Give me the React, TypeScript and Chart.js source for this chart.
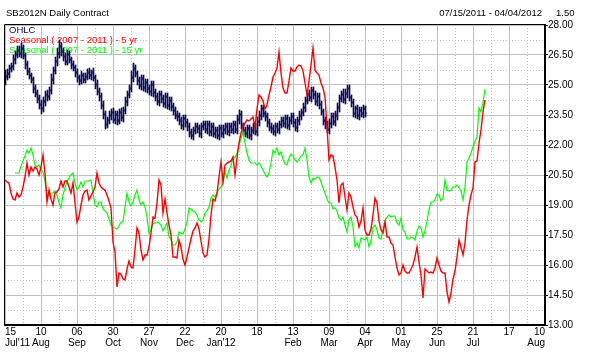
import { useEffect, useRef } from "react";
import { Chart, registerables } from "chart.js";

Chart.register(...registerables);

// ---------------- data ----------------
const TITLE = "SB2012N Daily Contract";
const DATE_RANGE = "07/15/2011 - 04/04/2012";
const STEP_TEXT = "1.50";
const LEGEND_LABELS = ["OHLC", "Seasonal ( 2007 - 2011 ) - 5 yr", "Seasonal ( 1997 - 2011 ) - 15 yr"];

// x axis: trading-day index, one labelled gridline every 18 sessions
const BARS_PER_TICK = 18;
const xTickDays = ["15", "10", "06", "30", "27", "22", "20", "18", "13", "09", "04", "01", "25", "21", "17", "10"];
const xTickMonths = ["Jul'11", "Aug", "Sep", "Oct", "Nov", "Dec", "Jan'12", "", "Feb", "Mar", "Apr", "May", "Jun", "Jul", "", "Aug"];

const yTicks = [13.0, 14.5, 16.0, 17.5, 19.0, 20.5, 22.0, 23.5, 25.0, 26.5, 28.0];

const ohlcOpen = [
  25.20, 25.45, 25.55, 25.85, 25.95, 26.25, 26.55, 26.75, 26.55, 26.85,
  26.45, 26.05, 25.65, 25.45, 25.25, 24.85, 24.55, 24.35, 24.05, 23.85,
  24.15, 24.55, 24.45, 24.75, 25.25, 25.75, 26.15, 26.55, 26.95, 26.65,
  26.45, 26.15, 26.55, 26.25, 26.05, 25.85, 25.65, 25.35, 25.25, 25.45,
  25.25, 25.45, 25.65, 25.45, 25.65, 25.35, 25.05, 24.65, 24.45, 23.95,
  23.55, 23.05, 23.25, 23.45, 23.65, 23.25, 23.55, 23.25, 23.65, 23.35,
  23.75, 24.15, 24.55, 24.85, 25.35, 25.85, 25.55, 25.25, 24.95, 25.35,
  24.85, 25.15, 24.85, 24.65, 25.05, 24.65, 24.45, 24.15, 24.55, 24.35,
  24.05, 24.45, 23.95, 24.25, 23.95, 23.75, 23.45, 23.45, 23.25, 22.95,
  23.35, 23.15, 22.95, 22.65, 22.45, 22.75, 22.95, 22.85, 22.55, 22.95,
  23.05, 22.75, 23.05, 22.65, 22.95, 22.55, 22.75, 22.45, 22.85, 22.55,
  22.75, 22.95, 22.65, 22.95, 22.75, 23.05, 22.75, 23.25, 23.55, 22.95,
  22.75, 22.55, 22.85, 22.45, 22.75, 22.95, 22.65, 23.15, 23.45, 23.85,
  23.55, 23.45, 23.15, 22.85, 22.85, 22.65, 22.95, 22.75, 23.05, 23.25,
  23.05, 23.35, 22.95, 23.25, 23.45, 23.15, 22.85, 23.25, 23.45, 23.65,
  23.85, 24.25, 24.55, 24.35, 24.75, 24.55, 24.15, 24.45, 24.05, 23.65,
  23.25, 23.05, 22.75, 23.05, 23.45, 23.15, 23.45, 23.85, 24.35, 24.55,
  24.25, 24.55, 24.85, 24.35, 24.15, 23.55, 23.85, 23.45, 23.75, 23.55,
  23.85,
];
const ohlcHigh = [
  25.75, 25.80, 26.00, 26.10, 26.50, 26.70, 26.95, 26.95, 27.10, 27.00,
  26.60, 26.20, 25.85, 25.60, 25.40, 25.00, 24.75, 24.50, 24.25, 24.40,
  24.70, 24.75, 24.90, 25.55, 25.90, 26.40, 26.85, 27.25, 27.10, 26.85,
  26.60, 26.75, 26.70, 26.40, 26.20, 26.00, 25.80, 25.50, 25.70, 25.60,
  25.60, 25.80, 25.85, 25.75, 25.85, 25.50, 25.25, 24.85, 24.60, 24.20,
  23.70, 23.40, 23.70, 23.80, 23.85, 23.70, 23.70, 23.80, 23.85, 23.90,
  24.40, 24.70, 25.00, 25.70, 26.10, 26.00, 25.70, 25.40, 25.50, 25.50,
  25.30, 25.30, 25.00, 25.20, 25.20, 24.80, 24.60, 24.70, 24.70, 24.50,
  24.60, 24.60, 24.40, 24.40, 24.10, 23.90, 23.70, 23.60, 23.40, 23.50,
  23.50, 23.30, 23.10, 22.80, 22.90, 23.10, 23.10, 23.00, 23.10, 23.20,
  23.20, 23.20, 23.20, 23.10, 23.10, 22.90, 22.90, 23.00, 23.00, 23.00,
  23.10, 23.10, 23.10, 23.10, 23.20, 23.20, 23.50, 23.75, 23.70, 23.10,
  22.90, 23.00, 23.00, 22.90, 23.10, 23.10, 23.40, 23.70, 24.00, 24.00,
  23.70, 23.60, 23.30, 23.10, 23.00, 23.10, 23.10, 23.20, 23.40, 23.40,
  23.50, 23.50, 23.40, 23.60, 23.60, 23.30, 23.40, 23.70, 23.80, 24.10,
  24.40, 24.70, 24.75, 24.90, 24.90, 24.70, 24.60, 24.60, 24.20, 23.80,
  23.40, 23.20, 23.30, 23.60, 23.60, 23.70, 24.10, 24.50, 24.70, 24.80,
  24.80, 25.00, 25.00, 24.50, 24.30, 23.95, 24.00, 23.90, 23.90, 24.00,
  23.95,
];
const ohlcLow = [
  25.00, 25.25, 25.35, 25.65, 25.75, 26.05, 26.35, 26.40, 26.35, 26.30,
  25.80, 25.50, 25.30, 25.10, 24.60, 24.40, 24.10, 23.80, 23.55, 23.65,
  23.95, 24.20, 24.25, 24.55, 25.05, 25.55, 25.95, 26.35, 26.45, 26.20,
  26.00, 26.00, 26.10, 25.80, 25.70, 25.40, 25.15, 25.00, 25.05, 25.10,
  25.10, 25.25, 25.30, 25.25, 25.20, 24.80, 24.50, 24.20, 23.80, 23.30,
  22.80, 22.85, 23.05, 23.25, 23.10, 23.05, 23.00, 23.05, 23.20, 23.15,
  23.55, 23.95, 24.35, 24.65, 25.15, 25.40, 25.00, 24.80, 24.75, 24.70,
  24.65, 24.60, 24.50, 24.45, 24.40, 24.20, 24.00, 23.95, 24.10, 23.90,
  23.85, 23.80, 23.75, 23.70, 23.50, 23.30, 23.20, 23.00, 22.80, 22.75,
  22.90, 22.70, 22.40, 22.30, 22.25, 22.55, 22.60, 22.40, 22.35, 22.75,
  22.60, 22.55, 22.45, 22.45, 22.40, 22.35, 22.30, 22.25, 22.40, 22.35,
  22.55, 22.50, 22.45, 22.60, 22.55, 22.60, 22.55, 23.05, 22.80, 22.50,
  22.40, 22.35, 22.30, 22.25, 22.55, 22.50, 22.45, 22.95, 23.25, 23.40,
  23.20, 22.90, 22.70, 22.60, 22.50, 22.45, 22.60, 22.55, 22.85, 22.90,
  22.85, 22.80, 22.75, 23.05, 22.90, 22.70, 22.65, 23.00, 23.25, 23.45,
  23.65, 24.05, 24.20, 24.15, 24.30, 24.00, 23.95, 23.80, 23.50, 23.00,
  22.80, 22.60, 22.55, 22.85, 23.00, 22.95, 23.25, 23.65, 24.15, 24.10,
  24.05, 24.35, 24.20, 23.90, 23.40, 23.35, 23.30, 23.25, 23.40, 23.35,
  23.40,
];
const ohlcClose = [
  25.40, 25.60, 25.80, 25.90, 26.30, 26.50, 26.70, 26.60, 26.80, 26.50,
  26.00, 25.70, 25.50, 25.30, 24.80, 24.60, 24.30, 24.00, 23.80, 24.20,
  24.50, 24.40, 24.70, 25.30, 25.70, 26.20, 26.60, 26.90, 26.70, 26.40,
  26.20, 26.50, 26.30, 26.00, 25.90, 25.60, 25.40, 25.20, 25.50, 25.30,
  25.40, 25.60, 25.50, 25.60, 25.40, 25.00, 24.70, 24.40, 24.00, 23.50,
  23.00, 23.20, 23.50, 23.60, 23.30, 23.50, 23.20, 23.60, 23.40, 23.70,
  24.20, 24.50, 24.80, 25.40, 25.80, 25.60, 25.20, 25.00, 25.30, 24.90,
  25.10, 24.80, 24.70, 25.00, 24.60, 24.40, 24.20, 24.50, 24.30, 24.10,
  24.40, 24.00, 24.20, 23.90, 23.70, 23.50, 23.40, 23.20, 23.00, 23.30,
  23.10, 22.90, 22.60, 22.50, 22.70, 22.90, 22.80, 22.60, 22.90, 23.00,
  22.80, 23.00, 22.70, 22.90, 22.60, 22.70, 22.50, 22.80, 22.60, 22.80,
  22.90, 22.70, 22.90, 22.80, 23.00, 22.80, 23.30, 23.50, 23.00, 22.70,
  22.60, 22.80, 22.50, 22.70, 22.90, 22.70, 23.20, 23.50, 23.80, 23.60,
  23.40, 23.10, 22.90, 22.80, 22.70, 22.90, 22.80, 23.00, 23.20, 23.10,
  23.30, 23.00, 23.20, 23.40, 23.10, 22.90, 23.20, 23.50, 23.60, 23.90,
  24.20, 24.50, 24.40, 24.70, 24.50, 24.20, 24.40, 24.00, 23.70, 23.20,
  23.00, 22.80, 23.10, 23.40, 23.20, 23.50, 23.90, 24.30, 24.50, 24.30,
  24.60, 24.80, 24.40, 24.10, 23.60, 23.80, 23.50, 23.70, 23.60, 23.80,
  23.60,
];

const seasonal5yr = [
  20.25, 20.15, 20.1, 19.6, 19.3, 19.25, 19.6, 19.4, 19.5, 19.9,
  20.4, 21.1, 20.5, 20.9, 20.7, 20.9, 20.8, 20.5, 20.9, 21.5,
  20.6, 19.15, 19.75, 19.3, 19.0, 19.6, 19.65, 19.8, 20.2, 19.9,
  20.2, 20.2, 19.9, 19.6, 20.1, 19.1, 18.15, 18.4, 19.0, 19.5,
  19.7, 19.75, 19.25, 19.45, 19.65, 19.9, 20.6, 20.1, 19.9, 19.8,
  19.75, 19.5, 19.2, 18.85, 17.15, 16.65, 14.9, 15.6, 15.55, 15.3,
  15.25, 15.8, 16.2, 15.9, 15.85, 16.75, 17.85, 17.6, 16.75, 16.25,
  16.5, 16.5, 16.9, 17.6, 18.4, 18.35, 19.1, 20.25, 20.0, 18.6,
  19.3, 18.6, 18.0, 17.5, 16.4, 16.4, 16.35, 17.25, 16.9, 16.3,
  16.0, 16.4, 16.85, 17.3, 17.7, 17.85, 18.1, 17.8, 17.2, 16.6,
  16.4, 16.5, 17.3, 18.5, 19.3, 19.2, 19.6, 20.4, 21.15, 20.15,
  21.0, 21.1, 21.15, 21.2, 21.4, 20.5, 21.35, 22.1, 22.6, 22.9,
  23.1, 23.25, 23.2, 23.3, 23.4, 22.9, 23.8, 24.5, 24.4, 24.2,
  23.8, 24.0, 24.5, 24.9, 25.4, 25.6, 25.85, 26.65, 25.6, 24.85,
  24.6, 24.6, 25.2, 25.85, 25.7, 25.7, 25.9, 26.0, 25.95, 25.7,
  25.1, 24.5, 25.2, 26.0, 26.85, 25.75, 25.6, 25.5, 25.1, 24.85,
  24.4, 22.9, 21.25, 21.5, 21.45, 20.9, 20.25, 19.1, 20.0, 20.1,
  19.4, 18.75, 19.6, 19.4, 18.9, 18.5, 18.4, 17.9, 18.2, 18.85,
  17.75, 17.5, 17.5, 17.8, 18.5, 19.35, 19.1, 18.2, 17.75, 17.6,
  18.15, 17.4, 17.4, 17.1, 17.0, 16.4, 15.85, 15.5, 15.6, 16.0,
  15.7, 15.6, 15.6, 15.8, 16.0, 16.4, 16.9, 16.15, 15.5, 14.35,
  15.8, 15.7, 15.6, 15.65, 15.6, 15.85, 16.35, 16.0, 15.7, 15.6,
  15.6, 14.65, 14.15, 14.6, 15.3, 15.7, 16.4, 17.25, 16.9, 16.5,
  17.1, 18.25, 19.0, 19.5, 19.85, 21.15, 21.2, 22.1, 22.75, 23.65,
  24.25,
];

const seasonal15yr = [
  null, null, null, null, null, 20.6, 20.6, 20.6, 20.95, 21.2,
  21.45, 21.75, 21.6, 21.85, 21.5, 21.0, 20.9, 21.0, 20.75, 20.65,
  20.2, 19.5, 19.45, 19.6, 19.6, 19.7, 19.5, 19.1, 18.85, 19.5,
  19.85, 20.15, 20.35, 20.5, 20.6, 20.1, 19.75, 19.9, 20.15, 19.9,
  20.2, 20.2, 20.2, 20.25, 19.6, 19.0, 18.9, 19.15, 19.15, 18.8,
  18.7, 18.6, 18.3, 18.0, 17.9, 17.85, 17.8, 17.95, 18.15, 18.15,
  18.9, 19.6, 19.15, 18.95, 19.15, 19.5, 19.75, 19.25, 19.0, 19.15,
  18.9, 18.4, 17.6, 17.75, 18.05, 18.1, 18.15, 18.1, 18.0, 17.7,
  17.9, 18.1, 17.4, 17.3, 17.0, 17.0, 17.15, 17.65, 17.6, 17.55,
  17.8, 18.15, 18.85, 18.8, 18.7, 18.65, 18.5, 18.25, 18.15, 18.25,
  18.6, 18.7, 18.9, 19.35, 19.5, 19.4, 19.6, 19.8, 19.9, 20.1,
  20.65, 20.35, 20.75, 20.95, 21.4, 21.35, 21.6, 22.0, 22.3, 22.65,
  22.1, 21.6, 21.25, 21.1, 21.1, 21.1, 21.0, 21.1, 20.95, 20.75,
  20.55, 20.4, 20.6, 21.1, 21.75, 21.6, 21.85, 21.5, 21.65, 21.3,
  21.05, 21.0, 21.35, 21.55, 21.45, 21.25, 21.15, 21.3, 21.45, 21.5,
  21.85, 21.25, 20.4, 20.1, 20.35, 20.3, 20.4, 20.4, 20.15, 19.85,
  19.6, 19.3, 19.1, 19.1, 18.8, 18.85, 18.7, 18.35, 18.25, 18.4,
  18.0, 17.65, 18.25, 18.4, 17.9, 16.9, 17.1, 16.85, 17.35, 17.3,
  17.25, 17.4, 16.9, 17.2, 17.9, 18.0, 17.75, 17.35, 17.3, 17.75,
  18.2, 18.4, 18.5, 18.4, 18.45, 18.45, 18.1, 18.0, 18.35, 17.75,
  17.65, 17.3, 17.3, 17.4, 17.35, 17.25, 17.7, 17.95, 17.85, 17.4,
  17.7, 18.2, 18.75, 19.15, 19.15, 19.25, 19.55, 19.5, 19.2, 19.35,
  20.25, 19.75, 19.7, 19.75, 19.9, 19.9, 20.0, 19.85, 19.7, 19.25,
  19.9, 21.15, 21.35, 21.6, 21.9, 22.2, 22.4, 23.85, 23.65, 24.1,
  24.8,
];

// ---------------- styles ----------------
const NAVY = "#0a0a5a";
const RED = "#ff0000";
const GREEN = "#00ff00";
const GRID = "#c0c0c0";
const FONT = "'Liberation Sans', Arial, sans-serif";
// sub-session shift that lands 1px OHLC strokes on whole device pixels
const BAR_SHIFT = 0.25;

const decorPlugin = {
  id: "decor",
  beforeDatasetsDraw(chart: any) {
    const { ctx, chartArea, scales } = chart;
    const xs = scales.x;
    const ys = scales.y;
    ctx.save();
    ctx.strokeStyle = GRID;
    ctx.lineWidth = 1;
    ctx.setLineDash([1, 2]);
    for (let k = 0; k < xTickDays.length - 1; k++) {
      const px = Math.round(xs.getPixelForValue((k + 0.5) * BARS_PER_TICK)) + 0.5;
      ctx.beginPath();
      ctx.moveTo(px, chartArea.top);
      ctx.lineTo(px, chartArea.bottom);
      ctx.stroke();
    }
    for (let k = 0; k < yTicks.length - 1; k++) {
      const py = Math.round(ys.getPixelForValue((yTicks[k] + yTicks[k + 1]) / 2)) + 0.5;
      ctx.beginPath();
      ctx.moveTo(chartArea.left, py);
      ctx.lineTo(chartArea.right, py);
      ctx.stroke();
    }
    ctx.setLineDash([]);
    ctx.font = `9.5px ${FONT}`;
    ctx.textBaseline = "alphabetic";
    ctx.textAlign = "left";
    const colors = [NAVY, RED, GREEN];
    LEGEND_LABELS.forEach((t, k) => {
      ctx.fillStyle = colors[k];
      ctx.fillText(t, chartArea.left + 4, chartArea.top + 8 + k * 10);
    });
    ctx.restore();
  },
  afterDraw(chart: any) {
    const { ctx, chartArea } = chart;
    ctx.save();
    ctx.strokeStyle = "#000";
    ctx.lineWidth = 1;
    ctx.beginPath();
    ctx.moveTo(chartArea.left - 0.5, chartArea.bottom);
    ctx.lineTo(chartArea.left - 0.5, chartArea.top - 0.5);
    ctx.lineTo(chartArea.right, chartArea.top - 0.5);
    ctx.stroke();
    ctx.fillStyle = "#000";
    ctx.font = `9.5px ${FONT}`;
    ctx.textBaseline = "alphabetic";
    ctx.textAlign = "left";
    ctx.fillText(TITLE, 6, 16);
    ctx.textAlign = "right";
    ctx.fillText(DATE_RANGE, 542, 16);
    ctx.textAlign = "left";
    ctx.fillText(STEP_TEXT, 556, 16);
    ctx.restore();
  },
};

export default function App() {
  const canvasRef = useRef<HTMLCanvasElement | null>(null);

  useEffect(() => {
    if (!canvasRef.current) return;
    const bars = ohlcHigh.map((h, i) => ({ x: i + BAR_SHIFT, y: [ohlcLow[i], h] }));
    const opens = ohlcOpen.map((v, i) => ({ x: i - BAR_SHIFT, y: v }));
    const closes = ohlcClose.map((v, i) => ({ x: i + 3 * BAR_SHIFT, y: v }));
    const red = seasonal5yr.map((v, i) => ({ x: i, y: v }));
    const green = seasonal15yr.map((v, i) => ({ x: i, y: v }));

    const chart = new Chart(canvasRef.current, {
      type: "bar",
      data: {
        datasets: [
          {
            type: "line",
            label: LEGEND_LABELS[1],
            data: red as any,
            borderColor: RED,
            borderWidth: 1.4,
            pointRadius: 0,
            tension: 0,
            order: 0,
          },
          {
            type: "line",
            label: LEGEND_LABELS[2],
            data: green as any,
            borderColor: GREEN,
            borderWidth: 1.2,
            pointRadius: 0,
            tension: 0,
            spanGaps: false,
            order: 1,
          },
          {
            type: "scatter",
            label: "open",
            data: opens as any,
            pointStyle: "line",
            radius: 0.5,
            borderColor: NAVY,
            borderWidth: 1,
            order: 2,
          },
          {
            type: "scatter",
            label: "close",
            data: closes as any,
            pointStyle: "line",
            radius: 0.5,
            borderColor: NAVY,
            borderWidth: 1,
            order: 2,
          },
          {
            type: "bar",
            label: LEGEND_LABELS[0],
            data: bars as any,
            backgroundColor: NAVY,
            barThickness: 1,
            order: 3,
          },
        ],
      },
      options: {
        animation: false,
        responsive: false,
        maintainAspectRatio: false,
        events: [],
        layout: { padding: { left: 5, top: 25, right: 0, bottom: 0 } },
        plugins: {
          legend: { display: false },
          tooltip: { enabled: false },
          title: { display: false },
        },
        scales: {
          x: {
            type: "linear",
            offset: false,
            min: 0,
            max: (xTickDays.length - 1) * BARS_PER_TICK,
            afterBuildTicks: (scale: any) => {
              scale.ticks = xTickDays.map((_, k) => ({ value: k * BARS_PER_TICK }));
            },
            afterFit: (scale: any) => {
              scale.height = 30;
            },
            grid: { color: GRID, lineWidth: 1, drawTicks: false, offset: false },
            border: { color: "#000", width: 2 },
            ticks: {
              autoSkip: false,
              maxRotation: 0,
              minRotation: 0,
              align: "inner",
              padding: 2,
              color: "#000",
              font: { family: FONT, size: 10, lineHeight: 1.1 },
              callback: (_v: any, index: number) => [xTickDays[index], xTickMonths[index]],
            },
          },
          y: {
            type: "linear",
            position: "right",
            min: yTicks[0],
            max: yTicks[yTicks.length - 1],
            afterBuildTicks: (scale: any) => {
              scale.ticks = yTicks.map((v) => ({ value: v }));
            },
            afterFit: (scale: any) => {
              scale.width = 50;
            },
            grid: { color: GRID, lineWidth: 1, drawTicks: true, tickLength: 3, tickColor: "#000" },
            border: { color: "#000", width: 2 },
            ticks: {
              autoSkip: false,
              padding: 0,
              color: "#000",
              font: { family: FONT, size: 10 },
              callback: (v: any) => Number(v).toFixed(2),
            },
          },
        },
      } as any,
      plugins: [decorPlugin],
    });
    return () => chart.destroy();
  }, []);

  return (
    <div style={{ position: "fixed", left: 0, top: 0, width: 595, height: 355, background: "#fff" }}>
      <canvas ref={canvasRef} width={595} height={355} style={{ width: 595, height: 355, display: "block" }} />
    </div>
  );
}
